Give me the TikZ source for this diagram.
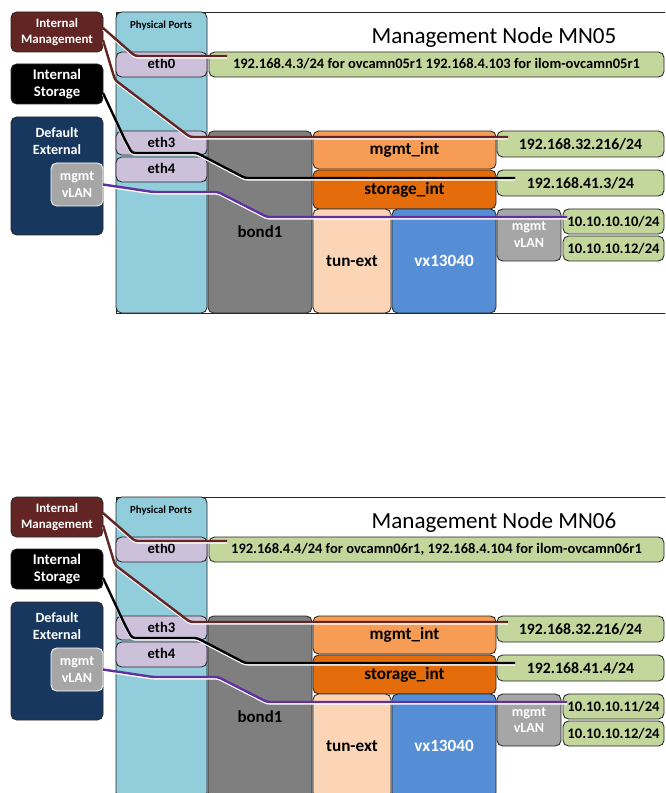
\documentclass[tikz,border=0pt]{standalone}
\usepackage{fontspec}
\setmainfont{Carlito}
\usepackage{tikz}
\definecolor{edge}{HTML}{262626}
\definecolor{imgmt}{HTML}{632523}
\definecolor{dext}{HTML}{17375E}
\definecolor{ports}{HTML}{92CDDC}
\definecolor{ethc}{HTML}{CCC0DA}
\definecolor{ipgreen}{HTML}{C3D69B}
\definecolor{bondc}{HTML}{7F7F7F}
\definecolor{mgmtint}{HTML}{F79C55}
\definecolor{storint}{HTML}{E46C0A}
\definecolor{tunext}{HTML}{FBD5B5}
\definecolor{vxblue}{HTML}{558ED5}
\definecolor{vlangray}{HTML}{A6A6A6}
\definecolor{vlanwire}{HTML}{6030A0}

\begin{document}
\begin{tikzpicture}[x=0.025cm,y=-0.025cm,
  area/.style n args={4}{minimum width={(#3-#1)*0.025cm},minimum height={(#4-#2)*0.025cm},
    at={({(#1+#3)/2},{(#2+#4)/2})}},
  blk/.style={draw=edge,line width=0.6pt,rounded corners=4pt,inner sep=0pt,outer sep=0pt,
    align=center,font=\bfseries\fontsize{11.2}{13}\selectfont},
  port/.style={blk,fill=ethc,font=\bfseries\fontsize{10.4}{12}\selectfont,text depth=0.1em},
  side/.style={blk,text=white,font=\bfseries\fontsize{9.2}{11.5}\selectfont},
  wire/.style={line width=1.7pt,rounded corners=2pt,
    preaction={draw=white,line width=1.5pt,transform canvas={yshift=-1.1pt}}}]
  \useasboundingbox (0,0) rectangle (665,793);
  \clip (0,0) rectangle (665,793);
  \foreach \oy/\mn/\ipa/\ipb/\ipc in {
    0/05/{192.168.4.3/24 for ovcamn05r1 192.168.4.103 for ilom-ovcamn05r1}/{192.168.41.3/24}/{10.10.10.10/24},
    485/06/{192.168.4.4/24 for ovcamn06r1, 192.168.4.104 for ilom-ovcamn06r1}/{192.168.41.4/24}/{10.10.10.11/24}}{
  \begin{scope}[shift={(0,\oy)}]
    % node frame
    \draw[edge,line width=0.6pt] (116,12) rectangle (690,313);
    \node[blk,fill=ports,area={116}{12}{207}{313}] (ports\mn) {};
    \node[font=\bfseries\fontsize{7.7}{10}\selectfont] (portslbl\mn) at (161,26) {Physical Ports};
    \node[font=\fontsize{16.4}{19}\selectfont] (title\mn) at (494,37) {Management Node MN\mn};
    % physical ports
    \node[port,area={116}{52}{207}{77}] (eth0\mn) {eth0};
    \node[port,area={116}{131}{207}{155}] (eth3\mn) {eth3};
    \node[port,area={116}{157}{207}{182}] (eth4\mn) {eth4};
    \node[blk,fill=ipgreen,area={209}{52}{664}{77},font=\bfseries\fontsize{10.3}{12}\selectfont,text depth=0.1em] (ipbar\mn) {\ipa};
    % bond and bridges
    \node[blk,fill=bondc,area={208}{131}{312}{313}] (bond\mn) {};
    \node (bondlbl\mn) at (260,232) [font=\bfseries\fontsize{12}{14}\selectfont] {bond1};
    \node[blk,fill=mgmtint,area={313}{131}{496}{169},font=\bfseries\fontsize{12.2}{14}\selectfont] (mgmtint\mn) {mgmt\_int};
    \node[blk,fill=storint,area={313}{170}{496}{209},font=\bfseries\fontsize{12.2}{14}\selectfont] (storint\mn) {storage\_int};
    \node[blk,fill=tunext,area={313}{209}{391}{313},font=\bfseries\fontsize{12.2}{14}\selectfont] (tunext\mn) {tun-ext};
    \node[blk,fill=vxblue,text=white,area={392}{209}{496}{313},font=\bfseries\fontsize{12.2}{14}\selectfont] (vx\mn) {vx13040};
    \node[blk,fill=vlangray,text=white,area={497}{209}{561}{261},font=\bfseries\fontsize{10}{12}\selectfont] (vlan\mn) {mgmt\\vLAN};
    % addresses
    \node[blk,fill=ipgreen,area={497}{131}{664}{157}] (ipmgmt\mn) {192.168.32.216/24};
    \node[blk,fill=ipgreen,area={497}{170}{664}{196}] (ipstor\mn) {\ipb};
    \node[blk,fill=ipgreen,area={563}{209}{664}{234},font=\bfseries\fontsize{10.4}{12}\selectfont] (ipvlana\mn) {\ipc};
    \node[blk,fill=ipgreen,area={563}{236}{664}{261},font=\bfseries\fontsize{10.4}{12}\selectfont] (ipvlanb\mn) {10.10.10.12/24};
    % networks
    \node[side,fill=imgmt,area={11}{12}{103}{52}] (imgmt\mn) {Internal\\Management};
    \node[side,fill=black,area={11}{64}{103}{104},font=\bfseries\fontsize{10.5}{12.5}\selectfont] (istor\mn) {Internal\\Storage};
    \node[side,fill=dext,area={11}{117}{103}{235}] (dext\mn) {};
    \node[text=white,align=center,font=\bfseries\fontsize{10}{12.5}\selectfont] (dextlbl\mn) at (57,141) {Default\\External};
    \node[side,draw=white,fill=vlangray,area={51}{163}{103}{206},font=\bfseries\fontsize{10}{12}\selectfont] (extvlan\mn) {mgmt\\vLAN};
    % wires
    \coordinate (e0end\mn) at (227,56);
    \coordinate (mgend\mn) at (508,137);
    \coordinate (stend\mn) at (515,178);
    \coordinate (vlend\mn) at (567,217);
    \draw[wire,imgmt] (imgmt\mn.5) -- (135,56) -- (e0end\mn);
    \draw[wire,imgmt] (imgmt\mn.-10) -- (115,80) -- (190,137) -- (mgend\mn);
    \draw[wire,black] (istor\mn.-11) -- (125,140) -- (132,153) -- (197,153) -- (245,178) -- (stend\mn);
    \draw[wire,vlanwire] (extvlan\mn.east) -- (153,192) -- (218,192) -- (267,217) -- (vlend\mn);
  \end{scope}
  }
\end{tikzpicture}
\end{document}
